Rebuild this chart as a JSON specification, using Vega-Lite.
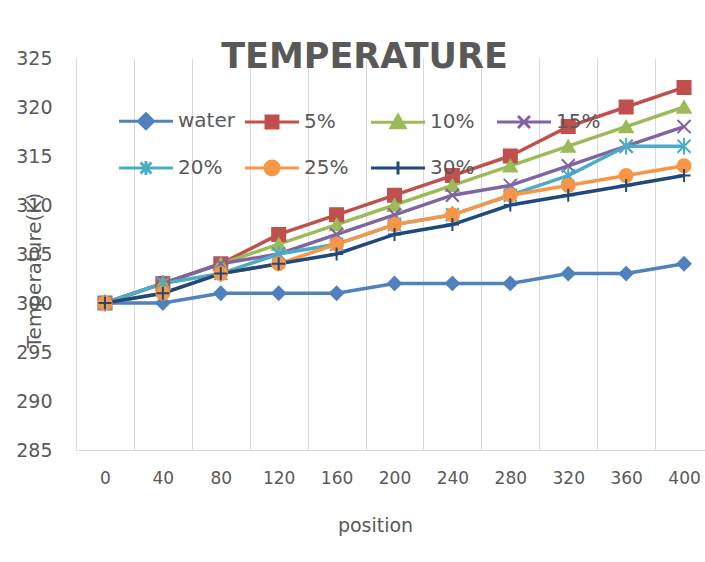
{
  "$schema": "https://vega.github.io/schema/vega-lite/v6.json",
  "autosize": {"type": "none"},
  "padding": {"left": 76, "top": 58, "right": 0, "bottom": 112},
  "width": 637,
  "height": 392,
  "background": "white",
  "title": {
    "text": "TEMPERATURE",
    "font": "DejaVu Sans",
    "fontSize": 35,
    "fontWeight": "bold",
    "color": "#595959",
    "anchor": "middle",
    "dx": -30,
    "dy": 34,
    "baseline": "alphabetic",
    "offset": -20
  },
  "data": {
    "values": [
      {"pos": 0, "series": "water", "T": 300}, {"pos": 40, "series": "water", "T": 300}, {"pos": 80, "series": "water", "T": 301}, {"pos": 120, "series": "water", "T": 301}, {"pos": 160, "series": "water", "T": 301}, {"pos": 200, "series": "water", "T": 302}, {"pos": 240, "series": "water", "T": 302}, {"pos": 280, "series": "water", "T": 302}, {"pos": 320, "series": "water", "T": 303}, {"pos": 360, "series": "water", "T": 303}, {"pos": 400, "series": "water", "T": 304},
      {"pos": 0, "series": "5%", "T": 300}, {"pos": 40, "series": "5%", "T": 302}, {"pos": 80, "series": "5%", "T": 304}, {"pos": 120, "series": "5%", "T": 307}, {"pos": 160, "series": "5%", "T": 309}, {"pos": 200, "series": "5%", "T": 311}, {"pos": 240, "series": "5%", "T": 313}, {"pos": 280, "series": "5%", "T": 315}, {"pos": 320, "series": "5%", "T": 318}, {"pos": 360, "series": "5%", "T": 320}, {"pos": 400, "series": "5%", "T": 322},
      {"pos": 0, "series": "10%", "T": 300}, {"pos": 40, "series": "10%", "T": 302}, {"pos": 80, "series": "10%", "T": 304}, {"pos": 120, "series": "10%", "T": 306}, {"pos": 160, "series": "10%", "T": 308}, {"pos": 200, "series": "10%", "T": 310}, {"pos": 240, "series": "10%", "T": 312}, {"pos": 280, "series": "10%", "T": 314}, {"pos": 320, "series": "10%", "T": 316}, {"pos": 360, "series": "10%", "T": 318}, {"pos": 400, "series": "10%", "T": 320},
      {"pos": 0, "series": "15%", "T": 300}, {"pos": 40, "series": "15%", "T": 302}, {"pos": 80, "series": "15%", "T": 304}, {"pos": 120, "series": "15%", "T": 305}, {"pos": 160, "series": "15%", "T": 307}, {"pos": 200, "series": "15%", "T": 309}, {"pos": 240, "series": "15%", "T": 311}, {"pos": 280, "series": "15%", "T": 312}, {"pos": 320, "series": "15%", "T": 314}, {"pos": 360, "series": "15%", "T": 316}, {"pos": 400, "series": "15%", "T": 318},
      {"pos": 0, "series": "20%", "T": 300}, {"pos": 40, "series": "20%", "T": 302}, {"pos": 80, "series": "20%", "T": 303}, {"pos": 120, "series": "20%", "T": 305}, {"pos": 160, "series": "20%", "T": 306}, {"pos": 200, "series": "20%", "T": 308}, {"pos": 240, "series": "20%", "T": 309}, {"pos": 280, "series": "20%", "T": 311}, {"pos": 320, "series": "20%", "T": 313}, {"pos": 360, "series": "20%", "T": 316}, {"pos": 400, "series": "20%", "T": 316},
      {"pos": 0, "series": "25%", "T": 300}, {"pos": 40, "series": "25%", "T": 301}, {"pos": 80, "series": "25%", "T": 303}, {"pos": 120, "series": "25%", "T": 304}, {"pos": 160, "series": "25%", "T": 306}, {"pos": 200, "series": "25%", "T": 308}, {"pos": 240, "series": "25%", "T": 309}, {"pos": 280, "series": "25%", "T": 311}, {"pos": 320, "series": "25%", "T": 312}, {"pos": 360, "series": "25%", "T": 313}, {"pos": 400, "series": "25%", "T": 314},
      {"pos": 0, "series": "30%", "T": 300}, {"pos": 40, "series": "30%", "T": 301}, {"pos": 80, "series": "30%", "T": 303}, {"pos": 120, "series": "30%", "T": 304}, {"pos": 160, "series": "30%", "T": 305}, {"pos": 200, "series": "30%", "T": 307}, {"pos": 240, "series": "30%", "T": 308}, {"pos": 280, "series": "30%", "T": 310}, {"pos": 320, "series": "30%", "T": 311}, {"pos": 360, "series": "30%", "T": 312}, {"pos": 400, "series": "30%", "T": 313}
    ]
  },
  "encoding": {
    "x": {
      "field": "pos",
      "type": "ordinal",
      "scale": {"type": "band", "paddingInner": 0, "paddingOuter": 0},
      "axis": {
        "title": "position",
        "labelAngle": 0,
        "labelFont": "DejaVu Sans",
        "labelFontSize": 17,
        "labelColor": "#595959",
        "labelPadding": 20,
        "ticks": false,
        "tickBand": "extent",
        "grid": true,
        "gridColor": "#D9D9D9",
        "gridWidth": 1,
        "domainColor": "#D9D9D9",
        "domainWidth": 1,
        "titleFont": "DejaVu Sans",
        "titleFontSize": 19,
        "titleFontWeight": "normal",
        "titleColor": "#595959",
        "titleX": 299,
        "titleY": 75,
        "titleBaseline": "middle",
        "titleAnchor": null
      }
    },
    "y": {
      "field": "T",
      "type": "quantitative",
      "scale": {"domain": [285, 325], "nice": false, "zero": false},
      "axis": {
        "title": "Temperature(K)",
        "values": [285, 290, 295, 300, 305, 310, 315, 320, 325],
        "grid": false,
        "domain": false,
        "ticks": false,
        "labelFont": "DejaVu Sans",
        "labelFontSize": 19,
        "labelColor": "#595959",
        "labelPadding": 24,
        "titleFont": "DejaVu Sans",
        "titleFontSize": 20,
        "titleFontWeight": "normal",
        "titleColor": "#595959",
        "titleAngle": -90,
        "titleX": -42,
        "titleY": 212,
        "titleAlign": "center",
        "titleBaseline": "middle"
      }
    }
  },
  "layer": [
    {
      "mark": {"type": "line", "strokeWidth": 3.5},
      "encoding": {
        "color": {
          "field": "series",
          "type": "nominal",
          "scale": {
            "domain": ["water", "5%", "10%", "15%", "20%", "25%", "30%"],
            "range": ["#4F81BD", "#C0504D", "#9BBB59", "#8064A2", "#4BACC6", "#F79646", "#1F497D"]
          }
        }
      }
    },
    {
      "mark": {"type": "point", "filled": true, "opacity": 1, "size": 170, "strokeWidth": 2},
      "encoding": {
        "color": {
          "field": "series",
          "type": "nominal",
          "scale": {
            "domain": ["water", "5%", "10%", "15%", "20%", "25%", "30%"],
            "range": ["#4F81BD", "#C0504D", "#9BBB59", "#8064A2", "#4BACC6", "#F79646", "#1F497D"]
          },
          "legend": {
            "title": null,
            "orient": "none",
            "legendX": 60,
            "legendY": 53,
            "direction": "horizontal",
            "columns": 4,
            "gridAlign": "all",
            "columnPadding": 4,
            "rowPadding": 20,
            "padding": 0,
            "symbolSize": 100,
            "symbolStrokeWidth": 3,
            "symbolOffset": 0,
            "labelOffset": 22,
            "labelFont": "DejaVu Sans",
            "labelFontSize": 20,
            "labelColor": "#595959",
            "symbolOpacity": 1,
            "encode": {
              "symbols": {
                "update": {
                  "shape": {"signal": "datum.value === 'water' ? 'M-5.4,0H5.4M0,-1.5L1.5,0L0,1.5L-1.5,0Z' : datum.value === '5%' ? 'M-5.4,0H5.4M-1.2,-1.2H1.2V1.2H-1.2Z' : datum.value === '10%' ? 'M-5.4,0H5.4M0,-1.4L1.4,1.1L-1.4,1.1Z' : datum.value === '15%' ? 'M-5.4,0H5.4M-1.2,-1.2L1.2,1.2M-1.2,1.2L1.2,-1.2' : datum.value === '20%' ? 'M-5.4,0H5.4M-1.1,-1.1L1.1,1.1M-1.1,1.1L1.1,-1.1M0,-1.4V1.4' : datum.value === '25%' ? 'M-5.4,0H5.4M-1.4,0A1.4,1.4,0,1,0,1.4,0A1.4,1.4,0,1,0,-1.4,0Z' : 'M-5.4,0H5.4M0,-1.3V1.3'"},
                  "strokeWidth": {"value": 3}
                }
              }
            }
          }
        },
        "stroke": {
          "field": "series",
          "type": "nominal",
          "scale": {
            "domain": ["water", "5%", "10%", "15%", "20%", "25%", "30%"],
            "range": ["#4F81BD", "#C0504D", "#9BBB59", "#8064A2", "#4BACC6", "#F79646", "#1F497D"]
          }
        },
        "shape": {
          "field": "series",
          "type": "nominal",
          "sort": ["water", "5%", "10%", "15%", "20%", "25%", "30%"],
          "scale": {
            "range": ["diamond", "square", "triangle-up", "M-1,-1L1,1M-1,1L1,-1", "M-1,-1L1,1M-1,1L1,-1M0,-1.3V1.3", "circle", "M-1,0H1M0,-1V1"]
          },
          "legend": null
        }
      }
    }
  ],
  "config": {
    "view": {"stroke": null}
  }
}
